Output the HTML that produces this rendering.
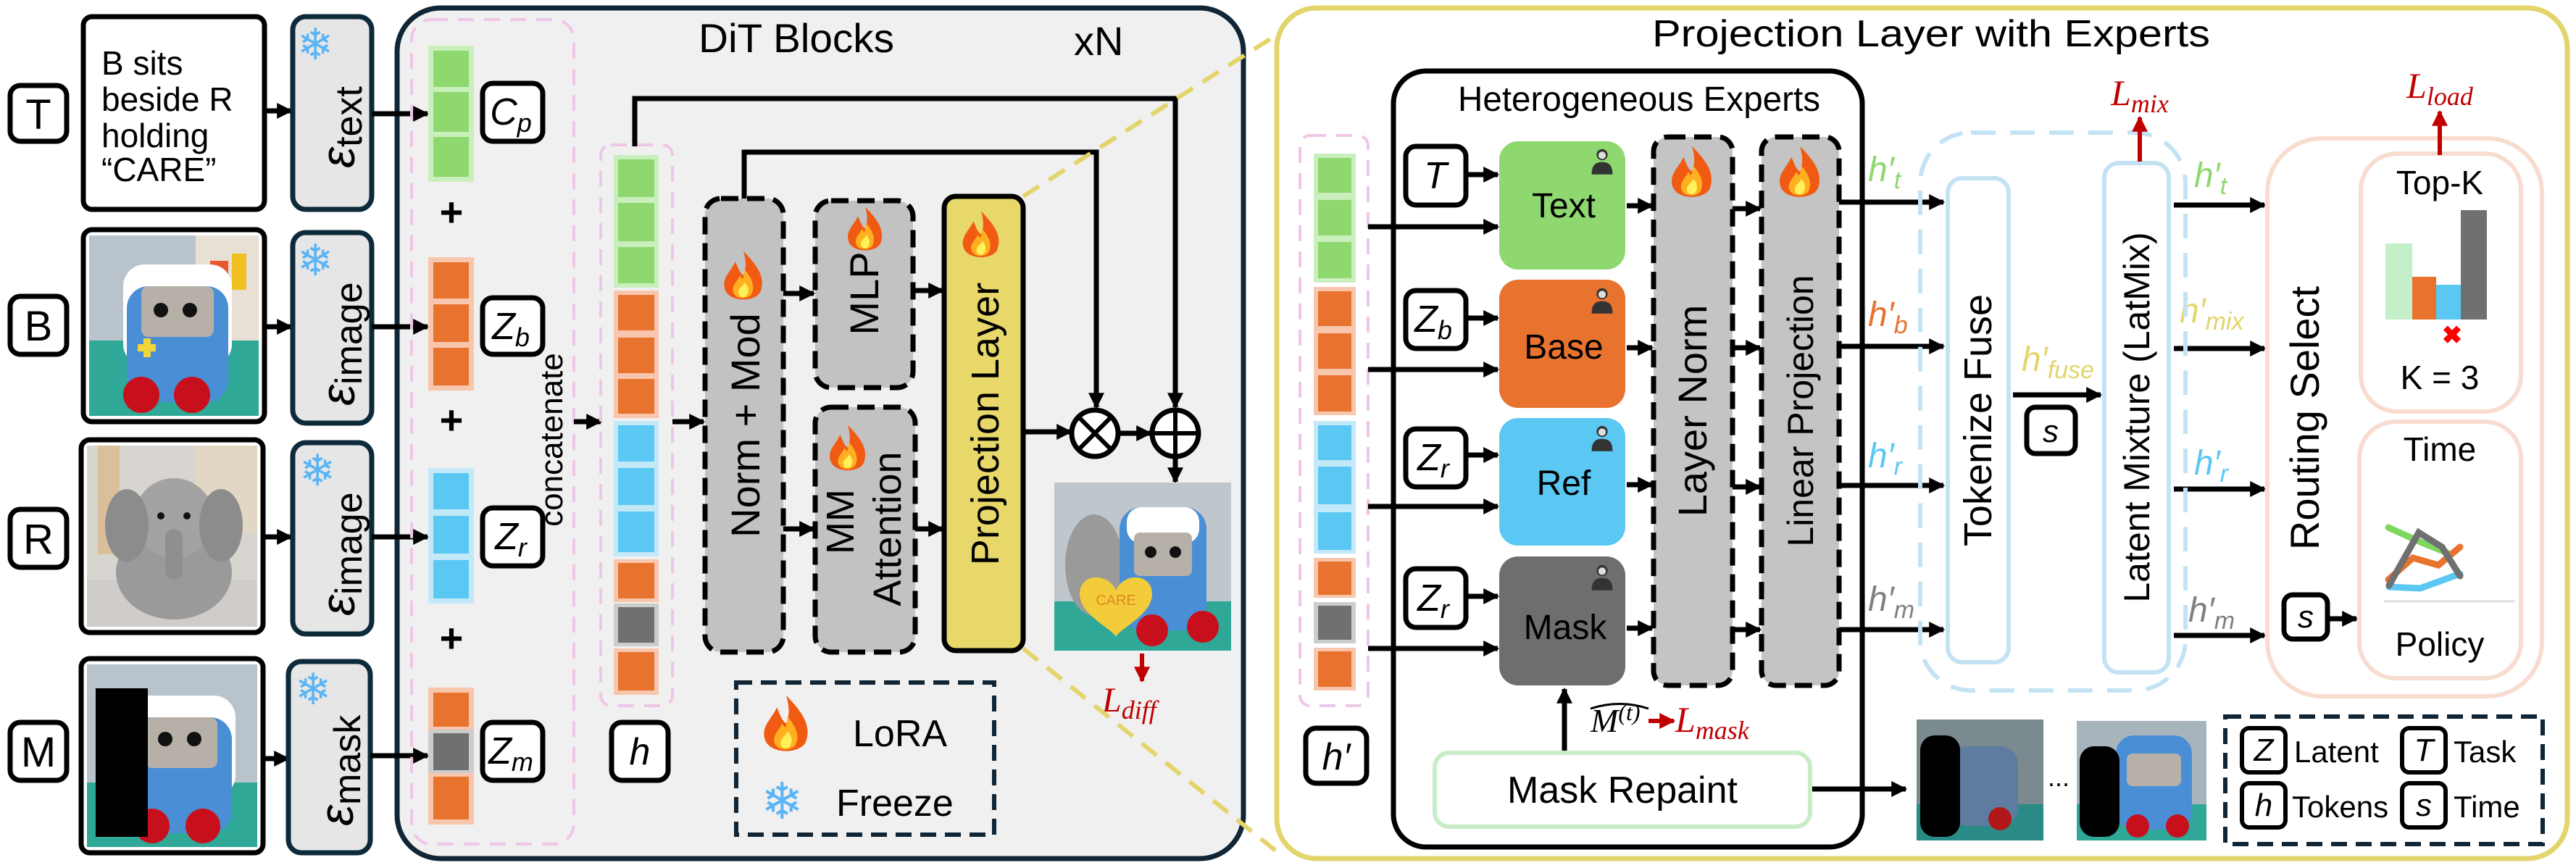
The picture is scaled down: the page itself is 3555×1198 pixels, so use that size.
<!DOCTYPE html>
<html><head><meta charset="utf-8"><style>
html,body{margin:0;padding:0;background:#fff;}
svg{display:block;}
text{font-family:"Liberation Sans",sans-serif;}
.m{font-family:"Liberation Serif",serif;font-style:italic;}
</style></head><body>
<svg width="3555" height="1198" viewBox="0 0 3555 1198" xmlns="http://www.w3.org/2000/svg">
<defs>
<marker id="ah" viewBox="0 0 10 10" refX="9" refY="5" markerWidth="22" markerHeight="22" markerUnits="userSpaceOnUse" orient="auto"><path d="M0,0 L10,5 L0,10 Z" fill="#000"/></marker>
<marker id="ahr" viewBox="0 0 10 10" refX="9" refY="5" markerWidth="22" markerHeight="22" markerUnits="userSpaceOnUse" orient="auto"><path d="M0,0 L10,5 L0,10 Z" fill="#c00000"/></marker>
<symbol id="fire" viewBox="-40 -50 80 100"><path d="M0,-48 C22,-25 38,-5 30,20 C24,40 -24,42 -32,18 C-38,-2 -22,-12 -14,-30 C-8,-16 -6,-10 0,-6 C6,-20 4,-34 0,-48Z" fill="#f05a12"/><path d="M2,-16 C16,0 20,14 14,26 C8,36 -14,36 -18,22 C-20,10 -10,4 -6,-6 C-2,2 0,4 2,-16Z" fill="#ffb020"/><path d="M2,6 C10,14 10,24 4,30 C-4,34 -10,28 -8,20 C-6,14 0,12 2,6Z" fill="#fff15a"/></symbol>
<symbol id="person" viewBox="0 0 40 44"><circle cx="20" cy="12" r="9" fill="#333"/><circle cx="20" cy="13" r="6" fill="#ddd"/><path d="M3,44 C3,28 10,24 20,24 C30,24 37,28 37,44Z" fill="#333"/></symbol>
</defs>

<!-- LEFT INPUTS -->
<g stroke="#000" stroke-width="7" fill="#fff">
<rect x="14" y="118" width="78" height="77" rx="14"/>
<rect x="14" y="409" width="78" height="80" rx="14"/>
<rect x="14" y="703" width="78" height="80" rx="14"/>
<rect x="14" y="997" width="78" height="80" rx="14"/>
<rect x="115" y="23" width="250" height="266" rx="12"/>
</g>
<g font-size="58" text-anchor="middle"><text x="53" y="178">T</text><text x="53" y="470">B</text><text x="53" y="764">R</text><text x="53" y="1058">M</text></g>
<g font-size="46"><text x="140" y="103">B sits</text><text x="140" y="153">beside R</text><text x="140" y="203">holding</text><text x="140" y="250">“CARE”</text></g>

<!-- B image -->
<g>
<rect x="115" y="317" width="250" height="265" rx="12" fill="#fff" stroke="#000" stroke-width="7"/>
<rect x="123" y="325" width="234" height="249" fill="#b8c3cc"/>
<rect x="270" y="325" width="87" height="160" fill="#e8e0d4"/>
<rect x="123" y="470" width="234" height="104" fill="#2fa897"/>
<rect x="290" y="360" width="25" height="40" fill="#e85a2a"/><rect x="320" y="350" width="20" height="50" fill="#f0c020"/>
<rect x="170" y="365" width="150" height="140" rx="30" fill="#fff"/>
<rect x="175" y="395" width="140" height="160" rx="30" fill="#4a8fd6"/>
<rect x="195" y="395" width="100" height="70" rx="10" fill="#b7b0a8"/>
<circle cx="222" cy="428" r="10" fill="#111"/><circle cx="262" cy="428" r="10" fill="#111"/>
<circle cx="195" cy="545" r="25" fill="#c8101c"/><circle cx="265" cy="545" r="25" fill="#c8101c"/>
<rect x="190" y="475" width="25" height="10" fill="#f2d53a"/><rect x="198" y="467" width="10" height="26" fill="#f2d53a"/>
</g>
<!-- R image -->
<g>
<rect x="112" y="607" width="251" height="266" rx="12" fill="#fff" stroke="#000" stroke-width="7"/>
<rect x="120" y="615" width="235" height="250" fill="#d8d4cf"/>
<rect x="120" y="800" width="235" height="65" fill="#cfccca"/>
<rect x="135" y="615" width="30" height="150" fill="#d9bf9a"/>
<rect x="270" y="615" width="85" height="120" fill="#e2d7c4"/>
<ellipse cx="240" cy="790" rx="80" ry="65" fill="#9a9a9a"/>
<ellipse cx="240" cy="715" rx="55" ry="55" fill="#a3a3a3"/>
<ellipse cx="175" cy="725" rx="30" ry="50" fill="#8c8c8c"/><ellipse cx="305" cy="725" rx="30" ry="50" fill="#8c8c8c"/>
<rect x="228" y="730" width="24" height="70" rx="12" fill="#8f8f8f"/>
<circle cx="222" cy="712" r="5" fill="#111"/><circle cx="258" cy="712" r="5" fill="#111"/>
</g>
<!-- M image -->
<g>
<rect x="112" y="909" width="251" height="268" rx="12" fill="#fff" stroke="#000" stroke-width="7"/>
<rect x="120" y="917" width="235" height="252" fill="#b8c3cc"/>
<rect x="120" y="1080" width="235" height="89" fill="#2fa897"/>
<rect x="175" y="960" width="150" height="140" rx="30" fill="#fff"/>
<rect x="180" y="990" width="140" height="160" rx="30" fill="#4a8fd6"/>
<rect x="200" y="990" width="100" height="70" rx="10" fill="#b7b0a8"/>
<circle cx="228" cy="1020" r="10" fill="#111"/><circle cx="268" cy="1020" r="10" fill="#111"/>
<circle cx="210" cy="1140" r="24" fill="#c8101c"/><circle cx="280" cy="1140" r="24" fill="#c8101c"/>
<rect x="132" y="950" width="72" height="205" fill="#000"/>
</g>

<!-- arrows image -> encoder -->
<g stroke="#000" stroke-width="7" marker-end="url(#ah)">
<line x1="365" y1="153" x2="402" y2="153"/><line x1="365" y1="451" x2="402" y2="451"/>
<line x1="363" y1="741" x2="402" y2="741"/><line x1="363" y1="1047" x2="398" y2="1047"/>
</g>

<!-- DiT panel -->
<rect x="548" y="11" width="1168" height="1174" rx="60" fill="#f0f0f0" stroke="#102535" stroke-width="7"/>
<!-- encoders -->
<g fill="#e6e6e6" stroke="#0d2a3a" stroke-width="7">
<rect x="404" y="23" width="109" height="266" rx="18"/>
<rect x="404" y="321" width="109" height="263" rx="18"/>
<rect x="404" y="611" width="109" height="264" rx="18"/>
<rect x="398" y="913" width="113" height="264" rx="18"/>
</g>
<g font-size="60" fill="#5ab4f5"><text x="410" y="82">❄</text><text x="410" y="380">❄</text><text x="413" y="670">❄</text><text x="407" y="972">❄</text></g>
<g font-family="Liberation Serif" font-size="66">
<text transform="translate(489,232) rotate(-90)"><tspan font-style="italic">ε</tspan><tspan font-size="52" dy="10">text</tspan></text>
<text transform="translate(489,560) rotate(-90)"><tspan font-style="italic">ε</tspan><tspan font-size="52" dy="10">image</tspan></text>
<text transform="translate(489,850) rotate(-90)"><tspan font-style="italic">ε</tspan><tspan font-size="52" dy="10">image</tspan></text>
<text transform="translate(487,1140) rotate(-90)"><tspan font-style="italic">ε</tspan><tspan font-size="52" dy="10">mask</tspan></text>
</g>
<!-- encoder -> tokens -->
<g stroke="#000" stroke-width="7" marker-end="url(#ah)">
<line x1="513" y1="157" x2="590" y2="157"/><line x1="513" y1="451" x2="590" y2="451"/>
<line x1="513" y1="741" x2="590" y2="741"/><line x1="511" y1="1043" x2="590" y2="1043"/>
</g>
<rect x="568" y="27" width="224" height="1138" rx="28" fill="none" stroke="#efc6e8" stroke-width="4" stroke-dasharray="22,14"/>
<!-- token col1 -->
<rect x="591" y="63" width="63" height="188" fill="#c9efbd"/>
<g fill="#8ed86f"><rect x="598" y="70" width="49" height="50"/><rect x="598" y="127" width="49" height="55"/><rect x="598" y="189" width="49" height="55"/></g>
<rect x="591" y="355" width="63" height="184" fill="#f7c6ac"/>
<g fill="#e8732f"><rect x="598" y="362" width="49" height="50"/><rect x="598" y="420" width="49" height="52"/><rect x="598" y="480" width="49" height="52"/></g>
<rect x="591" y="646" width="63" height="187" fill="#c3e8f8"/>
<g fill="#5ac8f2"><rect x="598" y="653" width="49" height="50"/><rect x="598" y="712" width="49" height="52"/><rect x="598" y="773" width="49" height="53"/></g>
<rect x="591" y="949" width="63" height="189" fill="#f7c6ac"/><rect x="591" y="1007" width="63" height="60" fill="#cccccc"/>
<rect x="598" y="956" width="49" height="47" fill="#e8732f"/><rect x="598" y="1012" width="49" height="51" fill="#707070"/><rect x="598" y="1072" width="49" height="59" fill="#e8732f"/>
<g font-size="56" font-weight="bold" text-anchor="middle"><text x="623" y="312">+</text><text x="623" y="599">+</text><text x="623" y="900">+</text></g>
<g fill="#fff" stroke="#000" stroke-width="7">
<rect x="666" y="115" width="83" height="80" rx="14"/><rect x="666" y="411" width="83" height="78" rx="14"/>
<rect x="666" y="701" width="83" height="80" rx="14"/><rect x="666" y="997" width="83" height="80" rx="14"/>
<rect x="844" y="997" width="78" height="80" rx="14"/>
</g>
<g class="m" font-size="52" text-anchor="middle">
<text x="705" y="172">C<tspan font-size="36" dy="10">p</tspan></text>
<text x="705" y="468">Z<tspan font-size="36" dy="10">b</tspan></text>
<text x="705" y="758">Z<tspan font-size="36" dy="10">r</tspan></text>
<text x="705" y="1054">Z<tspan font-size="36" dy="10">m</tspan></text>
<text x="883" y="1055">h</text>
</g>
<text transform="translate(776,607) rotate(-90)" font-size="44" text-anchor="middle">concatenate</text>
<line x1="792" y1="582" x2="829" y2="582" stroke="#000" stroke-width="7" marker-end="url(#ah)"/>
<!-- token col2 -->
<rect x="829" y="200" width="99" height="774" rx="14" fill="none" stroke="#efc6e8" stroke-width="4" stroke-dasharray="22,14"/>
<rect x="847" y="214" width="62" height="183" fill="#c9efbd"/>
<g fill="#8ed86f"><rect x="853" y="220" width="50" height="52"/><rect x="853" y="280" width="50" height="53"/><rect x="853" y="341" width="50" height="50"/></g>
<rect x="847" y="401" width="62" height="176" fill="#f7c6ac"/>
<g fill="#e8732f"><rect x="853" y="407" width="50" height="49"/><rect x="853" y="466" width="50" height="49"/><rect x="853" y="523" width="50" height="48"/></g>
<rect x="847" y="581" width="62" height="187" fill="#c3e8f8"/>
<g fill="#5ac8f2"><rect x="853" y="587" width="50" height="50"/><rect x="853" y="646" width="50" height="51"/><rect x="853" y="706" width="50" height="56"/></g>
<rect x="847" y="772" width="62" height="59" fill="#f7c6ac"/><rect x="853" y="777" width="50" height="49" fill="#e8732f"/>
<rect x="847" y="833" width="62" height="59" fill="#cccccc"/><rect x="853" y="838" width="50" height="49" fill="#707070"/>
<rect x="847" y="895" width="62" height="64" fill="#f7c6ac"/><rect x="853" y="900" width="50" height="53" fill="#e8732f"/>
<!-- skip lines -->
<g fill="none" stroke="#000" stroke-width="7">
<polyline points="876,202 876,136 1622,136 1622,562" marker-end="url(#ah)"/>
<polyline points="1027,274 1027,210 1513,210 1513,562" marker-end="url(#ah)"/>
</g>
<line x1="928" y1="582" x2="971" y2="582" stroke="#000" stroke-width="7" marker-end="url(#ah)"/>
<!-- blocks -->
<g fill="#c2c2c2" stroke="#000" stroke-width="7" stroke-dasharray="24,12">
<rect x="973" y="274" width="108" height="626" rx="22"/>
<rect x="1125" y="277" width="135" height="258" rx="22"/>
<rect x="1125" y="562" width="138" height="338" rx="22"/>
</g>
<rect x="1303" y="271" width="109" height="627" rx="16" fill="#e8d86a" stroke="#000" stroke-width="7"/>
<use href="#fire" x="984" y="345" width="84" height="80"/>
<use href="#fire" x="1152" y="284" width="84" height="72"/>
<use href="#fire" x="1128" y="585" width="84" height="75"/>
<use href="#fire" x="1312" y="290" width="84" height="76"/>
<text transform="translate(1048,587) rotate(-90)" font-size="56" text-anchor="middle">Norm + Mod</text>
<text transform="translate(1212,405) rotate(-90)" font-size="56" text-anchor="middle">MLP</text>
<text transform="translate(1178,720) rotate(-90)" font-size="54" text-anchor="middle">MM</text>
<text transform="translate(1243,730) rotate(-90)" font-size="54" text-anchor="middle">Attention</text>
<text transform="translate(1378,585) rotate(-90)" font-size="54" text-anchor="middle">Projection Layer</text>
<g stroke="#000" stroke-width="7" marker-end="url(#ah)">
<line x1="1081" y1="405" x2="1123" y2="405"/><line x1="1081" y1="730" x2="1123" y2="730"/>
<line x1="1260" y1="401" x2="1301" y2="401"/><line x1="1263" y1="730" x2="1301" y2="730"/>
<line x1="1412" y1="596" x2="1478" y2="596"/><line x1="1545" y1="598" x2="1588" y2="598"/>
<line x1="1622" y1="632" x2="1622" y2="665"/>
</g>
<g fill="#fff" stroke="#000" stroke-width="7">
<circle cx="1511" cy="598" r="32"/><circle cx="1622" cy="598" r="32"/>
</g>
<g stroke="#000" stroke-width="6">
<line x1="1488" y1="575" x2="1534" y2="621"/><line x1="1534" y1="575" x2="1488" y2="621"/>
<line x1="1590" y1="598" x2="1654" y2="598"/><line x1="1622" y1="566" x2="1622" y2="630"/>
</g>
<!-- output image -->
<rect x="1455" y="666" width="244" height="232" fill="#bfc6cc"/>
<rect x="1455" y="830" width="244" height="68" fill="#2fa897"/>
<ellipse cx="1510" cy="780" rx="40" ry="70" fill="#9a9a9a"/>
<rect x="1545" y="700" width="120" height="170" rx="30" fill="#4a8fd6"/>
<rect x="1555" y="700" width="100" height="50" rx="20" fill="#fff"/>
<rect x="1565" y="735" width="80" height="60" rx="8" fill="#b7b0a8"/>
<circle cx="1588" cy="762" r="8" fill="#111"/><circle cx="1622" cy="762" r="8" fill="#111"/>
<path d="M1490,820 C1490,790 1530,790 1540,815 C1550,790 1590,790 1590,820 C1590,850 1540,870 1540,880 C1540,870 1490,850 1490,820Z" fill="#f2cc3a"/>
<text x="1540" y="835" font-size="20" fill="#e08a20" text-anchor="middle">CARE</text>
<circle cx="1590" cy="870" r="22" fill="#c8101c"/><circle cx="1660" cy="865" r="22" fill="#c8101c"/>
<line x1="1576" y1="902" x2="1576" y2="940" stroke="#c00000" stroke-width="6" marker-end="url(#ahr)"/>
<text x="1521" y="982" class="m" font-size="48" fill="#c00000">L<tspan font-size="36" dy="10">diff</tspan></text>
<text x="964" y="72" font-size="56" textLength="270" lengthAdjust="spacingAndGlyphs">DiT Blocks</text>
<text x="1482" y="76" font-size="56">xN</text>
<!-- legend -->
<rect x="1016" y="942" width="356" height="210" fill="none" stroke="#102535" stroke-width="6" stroke-dasharray="22,12"/>
<use href="#fire" x="1040" y="958" width="90" height="92"/>
<text x="1177" y="1030" font-size="52">LoRA</text>
<text x="1050" y="1130" font-size="70" fill="#5ab4f5">❄</text>
<text x="1154" y="1126" font-size="52">Freeze</text>
<!-- yellow dashed zoom lines -->
<g stroke="#e3d46b" stroke-width="6" stroke-dasharray="26,16">
<line x1="1412" y1="271" x2="1762" y2="48"/><line x1="1412" y1="895" x2="1768" y2="1180"/>
</g>

<!-- RIGHT PANEL -->
<rect x="1762" y="11" width="1781" height="1174" rx="55" fill="#fff" stroke="#e3d46b" stroke-width="7"/>
<text x="2665" y="64" font-size="52" text-anchor="middle" textLength="770" lengthAdjust="spacingAndGlyphs">Projection Layer with Experts</text>
<rect x="1923" y="98" width="647" height="1071" rx="45" fill="none" stroke="#000" stroke-width="7"/>
<text x="2262" y="153" font-size="48" text-anchor="middle" textLength="500" lengthAdjust="spacingAndGlyphs">Heterogeneous Experts</text>
<!-- h' col -->
<rect x="1794" y="187" width="94" height="787" rx="14" fill="none" stroke="#efc6e8" stroke-width="4" stroke-dasharray="22,14"/>
<rect x="1813" y="212" width="58" height="178" fill="#c9efbd"/>
<g fill="#8ed86f"><rect x="1819" y="218" width="46" height="48"/><rect x="1819" y="276" width="46" height="49"/><rect x="1819" y="334" width="46" height="50"/></g>
<rect x="1813" y="396" width="58" height="177" fill="#f7c6ac"/>
<g fill="#e8732f"><rect x="1819" y="402" width="46" height="48"/><rect x="1819" y="460" width="46" height="49"/><rect x="1819" y="518" width="46" height="50"/></g>
<rect x="1813" y="581" width="58" height="183" fill="#c3e8f8"/>
<g fill="#5ac8f2"><rect x="1819" y="587" width="46" height="48"/><rect x="1819" y="644" width="46" height="52"/><rect x="1819" y="707" width="46" height="52"/></g>
<rect x="1813" y="770" width="58" height="55" fill="#f7c6ac"/><rect x="1819" y="775" width="46" height="46" fill="#e8732f"/>
<rect x="1813" y="831" width="58" height="57" fill="#cccccc"/><rect x="1819" y="836" width="46" height="47" fill="#707070"/>
<rect x="1813" y="894" width="58" height="59" fill="#f7c6ac"/><rect x="1819" y="899" width="46" height="49" fill="#e8732f"/>
<g fill="#fff" stroke="#000" stroke-width="7">
<rect x="1802" y="1005" width="84" height="76" rx="14"/>
<rect x="1940" y="202" width="83" height="81" rx="14"/><rect x="1940" y="401" width="83" height="80" rx="14"/>
<rect x="1940" y="592" width="83" height="80" rx="14"/><rect x="1940" y="785" width="83" height="81" rx="14"/>
<rect x="2797" y="562" width="67" height="64" rx="12"/><rect x="3152" y="821" width="60" height="61" rx="12"/>
</g>
<g class="m" font-size="52" text-anchor="middle">
<text x="1844" y="1062">h′</text>
<text x="1981" y="260">T</text>
<text x="1978" y="458">Z<tspan font-size="36" dy="10">b</tspan></text>
<text x="1978" y="649">Z<tspan font-size="36" dy="10">r</tspan></text>
<text x="1978" y="843">Z<tspan font-size="36" dy="10">r</tspan></text>
<text x="2830" y="610" font-size="44">s</text><text x="3182" y="866" font-size="44">s</text>
</g>
<g stroke="#000" stroke-width="7" marker-end="url(#ah)">
<line x1="1888" y1="313" x2="2067" y2="313"/><line x1="1888" y1="510" x2="2067" y2="510"/>
<line x1="1888" y1="699" x2="2067" y2="699"/><line x1="1888" y1="895" x2="2067" y2="895"/>
<line x1="2023" y1="241" x2="2067" y2="241"/><line x1="2023" y1="439" x2="2067" y2="439"/>
<line x1="2023" y1="628" x2="2067" y2="628"/><line x1="2023" y1="823" x2="2067" y2="823"/>
<line x1="2245" y1="284" x2="2280" y2="284"/><line x1="2245" y1="480" x2="2280" y2="480"/>
<line x1="2245" y1="669" x2="2280" y2="669"/><line x1="2245" y1="867" x2="2280" y2="867"/>
<line x1="2391" y1="288" x2="2429" y2="288"/><line x1="2391" y1="480" x2="2429" y2="480"/>
<line x1="2391" y1="672" x2="2429" y2="672"/><line x1="2391" y1="869" x2="2429" y2="869"/>
<line x1="2538" y1="279" x2="2682" y2="279"/><line x1="2538" y1="478" x2="2682" y2="478"/>
<line x1="2538" y1="670" x2="2682" y2="670"/><line x1="2538" y1="869" x2="2682" y2="869"/>
<line x1="2778" y1="545" x2="2899" y2="545"/>
<line x1="3000" y1="283" x2="3125" y2="283"/><line x1="3000" y1="481" x2="3125" y2="481"/>
<line x1="3000" y1="675" x2="3125" y2="675"/><line x1="3000" y1="877" x2="3125" y2="877"/>
<line x1="3214" y1="854" x2="3252" y2="854"/>
<line x1="2159" y1="1037" x2="2159" y2="951"/>
<line x1="2498" y1="1089" x2="2630" y2="1089"/>
</g>
<!-- experts -->
<rect x="2069" y="195" width="174" height="177" rx="26" fill="#8ed86f"/>
<rect x="2069" y="386" width="174" height="177" rx="26" fill="#e8732f"/>
<rect x="2069" y="577" width="174" height="176" rx="26" fill="#5ac8f2"/>
<rect x="2069" y="768" width="174" height="178" rx="26" fill="#6e6e6e"/>
<use href="#person" x="2194" y="203" width="34" height="38"/><use href="#person" x="2194" y="395" width="34" height="38"/>
<use href="#person" x="2194" y="585" width="34" height="38"/><use href="#person" x="2194" y="777" width="34" height="38"/>
<g font-size="48" text-anchor="middle"><text x="2158" y="300">Text</text><text x="2158" y="495">Base</text><text x="2158" y="683">Ref</text><text x="2160" y="882">Mask</text></g>
<g fill="#c4c4c4" stroke="#000" stroke-width="7" stroke-dasharray="24,12">
<rect x="2282" y="189" width="109" height="757" rx="20"/>
<rect x="2431" y="189" width="107" height="757" rx="20"/>
</g>
<use href="#fire" x="2293" y="200" width="84" height="84"/><use href="#fire" x="2442" y="200" width="84" height="84"/>
<text transform="translate(2355,567) rotate(-90)" font-size="56" text-anchor="middle">Layer Norm</text>
<text transform="translate(2502,567) rotate(-90)" font-size="50" text-anchor="middle">Linear Projection</text>
<g class="m" font-size="48">
<text x="2578" y="250" fill="#8ed86f">h′<tspan font-size="34" dy="10">t</tspan></text>
<text x="2578" y="450" fill="#e8732f">h′<tspan font-size="34" dy="10">b</tspan></text>
<text x="2578" y="645" fill="#5ac8f2">h′<tspan font-size="34" dy="10">r</tspan></text>
<text x="2578" y="843" fill="#808080">h′<tspan font-size="34" dy="10">m</tspan></text>
<text x="2790" y="512" fill="#e3d46b">h′<tspan font-size="34" dy="10">fuse</tspan></text>
<text x="3028" y="258" fill="#8ed86f">h′<tspan font-size="34" dy="10">t</tspan></text>
<text x="3008" y="445" fill="#e3d46b">h′<tspan font-size="34" dy="10">mix</tspan></text>
<text x="3028" y="655" fill="#5ac8f2">h′<tspan font-size="34" dy="10">r</tspan></text>
<text x="3020" y="858" fill="#808080">h′<tspan font-size="34" dy="10">m</tspan></text>
</g>
<rect x="2650" y="183" width="366" height="770" rx="70" fill="none" stroke="#c3e3f4" stroke-width="6" stroke-dasharray="34,20"/>
<rect x="2688" y="246" width="84" height="668" rx="20" fill="none" stroke="#c3e3f4" stroke-width="6"/>
<rect x="2904" y="225" width="89" height="703" rx="20" fill="none" stroke="#c3e3f4" stroke-width="6"/>
<text transform="translate(2748,580) rotate(-90)" font-size="54" text-anchor="middle">Tokenize Fuse</text>
<text transform="translate(2966,576) rotate(-90)" font-size="50" text-anchor="middle">Latent Mixture (LatMix)</text>
<line x1="2953" y1="223" x2="2953" y2="162" stroke="#c00000" stroke-width="6" marker-end="url(#ahr)"/>
<text x="2953" y="145" class="m" font-size="50" fill="#c00000" text-anchor="middle">L<tspan font-size="36" dy="10">mix</tspan></text>
<!-- routing -->
<rect x="3129" y="191" width="379" height="770" rx="75" fill="none" stroke="#f8dccf" stroke-width="6"/>
<text transform="translate(3200,577) rotate(-90)" font-size="56" text-anchor="middle">Routing Select</text>
<rect x="3258" y="212" width="221" height="356" rx="50" fill="none" stroke="#f8dccf" stroke-width="6"/>
<text x="3367" y="268" font-size="46" text-anchor="middle">Top-K</text>
<rect x="3292" y="336" width="37" height="105" fill="#c3f0c8"/>
<rect x="3329" y="382" width="33" height="59" fill="#e8732f"/>
<rect x="3362" y="393" width="34" height="48" fill="#5ac8f2"/>
<rect x="3396" y="290" width="36" height="151" fill="#707070"/>
<text x="3384" y="474" font-size="34" fill="#ff0000" text-anchor="middle" font-weight="bold">✖</text>
<text x="3367" y="537" font-size="46" text-anchor="middle">K = 3</text>
<line x1="3367" y1="214" x2="3367" y2="154" stroke="#c00000" stroke-width="6" marker-end="url(#ahr)"/>
<text x="3367" y="135" class="m" font-size="50" fill="#c00000" text-anchor="middle">L<tspan font-size="36" dy="10">load</tspan></text>
<rect x="3256" y="582" width="223" height="354" rx="50" fill="none" stroke="#f8dccf" stroke-width="6"/>
<text x="3367" y="636" font-size="46" text-anchor="middle">Time</text>
<g fill="none" stroke-width="9" stroke-linecap="round">
<polyline points="3296,728 3340,748 3382,765" stroke="#7ed860"/>
<polyline points="3296,800 3330,770 3365,780 3395,755" stroke="#e8732f"/>
<polyline points="3297,810 3340,812 3395,792" stroke="#5ac8f2"/>
<polyline points="3297,808 3338,735 3370,755 3395,795" stroke="#707070"/>
</g>
<line x1="3290" y1="830" x2="3470" y2="830" stroke="#ddd" stroke-width="3"/>
<text x="3367" y="905" font-size="46" text-anchor="middle">Policy</text>
<!-- mask repaint -->
<rect x="1980" y="1039" width="518" height="102" rx="20" fill="#fff" stroke="#c8ecc8" stroke-width="6"/>
<text x="2239" y="1108" font-size="52" text-anchor="middle">Mask Repaint</text>
<text x="2195" y="1010" class="m" font-size="46">M<tspan font-size="32" dy="-16">(t)</tspan></text>
<path d="M2195,978 Q2235,965 2275,978" fill="none" stroke="#000" stroke-width="3"/>
<line x1="2275" y1="995" x2="2310" y2="995" stroke="#c00000" stroke-width="6" marker-end="url(#ahr)"/>
<text x="2312" y="1010" class="m" font-size="50" fill="#c00000">L<tspan font-size="36" dy="10">mask</tspan></text>
<!-- repaint images -->
<rect x="2645" y="993" width="175" height="167" fill="#7a8a8e"/>
<rect x="2645" y="1110" width="175" height="50" fill="#2a8a86"/>
<rect x="2690" y="1030" width="95" height="110" rx="25" fill="#5d7ca0"/>
<rect x="2650" y="1015" width="55" height="140" rx="20" fill="#000"/>
<circle cx="2760" cy="1130" r="16" fill="#b01818"/>
<text x="2841" y="1085" font-size="36" text-anchor="middle">...</text>
<rect x="2866" y="995" width="179" height="165" fill="#a8b4bc"/>
<rect x="2866" y="1110" width="179" height="50" fill="#2fa897"/>
<rect x="2920" y="1015" width="105" height="130" rx="25" fill="#4a8fd6"/>
<rect x="2935" y="1040" width="75" height="45" rx="8" fill="#b7b0a8"/>
<rect x="2870" y="1030" width="55" height="125" rx="20" fill="#000"/>
<circle cx="2950" cy="1140" r="16" fill="#c8101c"/><circle cx="3005" cy="1140" r="16" fill="#c8101c"/>
<!-- legend right -->
<rect x="3071" y="989" width="438" height="176" fill="none" stroke="#102535" stroke-width="6" stroke-dasharray="22,12"/>
<g fill="#fff" stroke="#000" stroke-width="6">
<rect x="3094" y="1005" width="60" height="61" rx="10"/><rect x="3315" y="1005" width="60" height="61" rx="10"/>
<rect x="3094" y="1081" width="60" height="61" rx="10"/><rect x="3315" y="1081" width="60" height="61" rx="10"/>
</g>
<g class="m" font-size="44" text-anchor="middle"><text x="3124" y="1050">Z</text><text x="3345" y="1050">T</text><text x="3124" y="1126">h</text><text x="3345" y="1126">s</text></g>
<g font-size="42"><text x="3166" y="1052">Latent</text><text x="3386" y="1052">Task</text><text x="3163" y="1128">Tokens</text><text x="3386" y="1128">Time</text></g>
</svg>
</body></html>
